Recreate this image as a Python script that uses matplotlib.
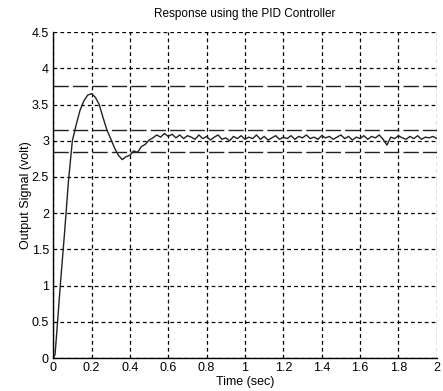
import numpy as np
import matplotlib
matplotlib.use("Agg")
import matplotlib.pyplot as plt

plt.rcParams['font.family'] = ['Liberation Sans Narrow', 'Liberation Sans', 'DejaVu Sans']

# response
t_rise = [0.0, 0.01, 0.02, 0.04, 0.06, 0.08, 0.10, 0.12, 0.14, 0.16, 0.18, 0.20,
          0.22, 0.24, 0.26, 0.28, 0.30, 0.32, 0.34, 0.36, 0.38]
y_rise = [0.0, 0.05, 0.40, 1.10, 1.75, 2.45, 3.00, 3.22, 3.42, 3.55, 3.63, 3.65,
          3.60, 3.50, 3.32, 3.15, 3.03, 2.90, 2.80, 2.74, 2.78]

t_settle = np.round(np.arange(0.40, 2.001, 0.02), 2)
y_settle = [2.80, 2.86, 2.84, 2.92, 2.95, 3.01, 3.04, 3.08, 3.05, 3.10, 3.06, 3.09,
            3.04, 3.08, 3.03, 3.07, 3.05, 3.02, 3.08, 3.03, 3.06, 3.01, 3.05, 3.08,
            3.02, 3.04, 3.00, 3.06, 3.03, 3.07, 3.02, 3.05, 3.03, 3.08, 3.02, 3.06,
            3.01, 3.04, 3.07, 3.02, 3.05, 3.03, 3.07, 3.02, 3.06, 3.04, 3.08, 3.03,
            3.05, 3.02, 3.07, 3.04, 3.06, 3.02, 3.05, 3.08, 3.03, 3.06, 3.01, 3.05,
            3.03, 3.07, 3.02, 3.06, 3.04, 3.08, 3.02, 2.94, 3.05, 3.03, 3.07, 3.04,
            3.02, 3.06, 3.03, 3.07, 3.02, 3.05, 3.04, 3.06, 3.03]

t = list(t_rise) + list(t_settle)
y = list(y_rise) + list(y_settle)

ref_levels = [3.75, 3.15, 2.85]
xticks = [0, 0.2, 0.4, 0.6, 0.8, 1, 1.2, 1.4, 1.6, 1.8, 2]
yticks = [0, 0.5, 1, 1.5, 2, 2.5, 3, 3.5, 4, 4.5]

fig = plt.figure(figsize=(4.43, 3.91), dpi=100)
ax = fig.add_axes([0.12, 0.084, 0.866, 0.834])

ax.plot(t, y, color='#222222', lw=1.0)
for lv in ref_levels:
    ax.axhline(lv, color='#222222', lw=1.0, dashes=(11, 3))

ax.set_xlim(0, 2)
ax.set_ylim(0, 4.5)
ax.set_xticks(xticks)
ax.set_xticklabels(['0', '0.2', '0.4', '0.6', '0.8', '1', '1.2', '1.4', '1.6', '1.8', '2'])
ax.set_yticks(yticks)
ax.set_yticklabels(['0', '0.5', '1', '1.5', '2', '2.5', '3', '3.5', '4', '4.5'])
ax.grid(True, color='black', lw=0.9, dashes=(3, 2.5))
ax.tick_params(length=0, labelsize=9, pad=3)
ax.spines['top'].set_visible(False)
ax.spines['right'].set_visible(False)
ax.spines['left'].set_linewidth(1.0)
ax.spines['bottom'].set_linewidth(1.0)

ax.set_title("Response using the PID Controller", fontsize=8.5, pad=11)
ax.set_xlabel("Time (sec)", fontsize=9, labelpad=1)
ax.set_ylabel("Output Signal (volt)", fontsize=9, labelpad=0)

fig.savefig("out.png", dpi=100)
